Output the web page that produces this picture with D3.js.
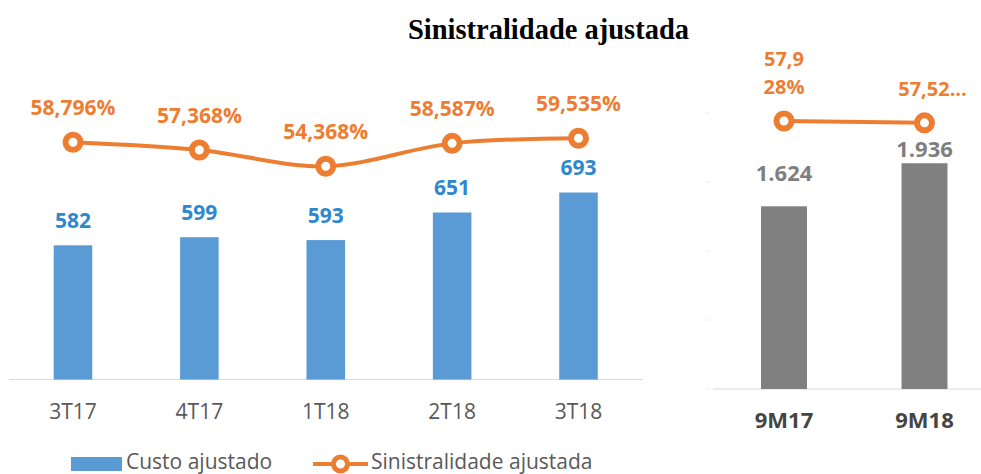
<!DOCTYPE html>
<html><head><meta charset="utf-8">
<script src="https://cdn.jsdelivr.net/npm/d3@7/dist/d3.min.js"></script>
<style>
html,body{margin:0;padding:0;background:#fff;}
svg{display:block;font-family:"Open Sans",sans-serif;}
</style></head>
<body>
<svg id="chart" width="981" height="474"></svg>
<script>
// ---- data ----
const quarters = ["3T17","4T17","1T18","2T18","3T18"];
const custoAjustado = [582, 599, 593, 651, 693];
const sinistralidade = [58.796, 57.368, 54.368, 58.587, 59.535];
const periods = ["9M17","9M18"];
const custoPeriodo = [1624, 1936];
const sinistPeriodo = [57.928, 57.525];
const sinistPeriodoLabels = [["57,9","28%"], ["57,52..."]];
const rightTicks = [300, 800, 1300, 1800, 2300];
const title = "Sinistralidade ajustada";
const legendItems = ["Custo ajustado", "Sinistralidade ajustada"];

const BLUE = "#5B9BD5", BLUE_TXT = "#2F88CC", ORANGE = "#ED7D31", GRAY = "#7F7F7F";
const svg = d3.select("#chart");
const fmtPct = v => d3.format(".3f")(v).replace(".", ",") + "%";
const fmtThousand = v => d3.format(",")(v).replace(",", ".");

// title
svg.append("text").attr("x", 548.5).attr("y", 39).attr("text-anchor", "middle")
  .style("font-family", "'Liberation Serif','Times New Roman',serif")
  .style("font-weight", "bold").style("font-size", "28.5px").attr("fill", "#000").text(title);

// ---------- left chart ----------
const x1 = d3.scaleBand().domain(quarters).range([9.8, 641.7]).paddingInner(0.695).paddingOuter(0.3475);
const y1 = d3.scaleLinear().domain([300, 900]).range([379.5, 94]);
const y1b = d3.scaleLinear().domain([15, 67.7]).range([379.5, 94]);
const base1 = 379.5;

svg.append("line").attr("x1", 9).attr("x2", 642).attr("y1", base1).attr("y2", base1)
  .attr("stroke", "#d9d9d9").attr("stroke-width", 1.2);

const cx1 = d => x1(d) + x1.bandwidth() / 2;

svg.append("g").selectAll("rect").data(quarters).join("rect")
  .attr("x", d => x1(d)).attr("width", x1.bandwidth())
  .attr("y", (d, i) => y1(custoAjustado[i])).attr("height", (d, i) => base1 - y1(custoAjustado[i]))
  .attr("fill", BLUE);

svg.append("g").selectAll("text").data(quarters).join("text")
  .attr("x", cx1).attr("y", (d, i) => y1(custoAjustado[i]) - 17.5)
  .attr("text-anchor", "middle").attr("fill", BLUE_TXT)
  .style("font-weight", "bold").style("font-size", "21px")
  .text((d, i) => custoAjustado[i]);

// x axis labels
const ax1 = svg.append("g").attr("transform", `translate(0,${base1})`)
  .call(d3.axisBottom(x1).tickSize(0).tickPadding(0));
ax1.select(".domain").remove();
ax1.selectAll("text").attr("y", 39).attr("dy", 0).attr("fill", "#595959")
  .style("font-size", "21px").style("font-family", "'Open Sans',sans-serif");

// line
const line1 = d3.line().x((d, i) => cx1(quarters[i])).y(d => y1b(d)).curve(d3.curveCatmullRom.alpha(0.5));
svg.append("path").datum(sinistralidade).attr("d", line1)
  .attr("fill", "none").attr("stroke", ORANGE).attr("stroke-width", 4).attr("stroke-linecap", "round");
svg.append("g").selectAll("circle").data(sinistralidade).join("circle")
  .attr("cx", (d, i) => cx1(quarters[i])).attr("cy", d => y1b(d)).attr("r", 7.5)
  .attr("fill", "#fff").attr("stroke", ORANGE).attr("stroke-width", 6);
svg.append("g").selectAll("text").data(sinistralidade).join("text")
  .attr("x", (d, i) => cx1(quarters[i])).attr("y", d => y1b(d) - 27)
  .attr("text-anchor", "middle").attr("fill", ORANGE)
  .style("font-weight", "bold").style("font-size", "21px").text(d => fmtPct(d));

// ---------- right chart ----------
const x2 = d3.scaleBand().domain(periods).range([713.75, 994.75]).paddingInner(0.673).paddingOuter(0.3365);
const y2 = d3.scaleLinear().domain([300, 2300]).range([389, 113]);
const y2b = d3.scaleLinear().domain([0, 75]).range([389, 42]);
const base2 = 389;
const cx2 = d => x2(d) + x2.bandwidth() / 2;

// faint hidden-axis ticks
svg.append("g").selectAll("line").data(rightTicks).join("line")
  .attr("x1", 705).attr("x2", 709).attr("y1", d => y2(d)).attr("y2", d => y2(d))
  .attr("stroke", "#ececec").attr("stroke-width", 1);

svg.append("line").attr("x1", 713).attr("x2", 981).attr("y1", base2).attr("y2", base2)
  .attr("stroke", "#d9d9d9").attr("stroke-width", 1.2);

svg.append("g").selectAll("rect").data(periods).join("rect")
  .attr("x", d => x2(d)).attr("width", x2.bandwidth())
  .attr("y", (d, i) => y2(custoPeriodo[i])).attr("height", (d, i) => base2 - y2(custoPeriodo[i]))
  .attr("fill", "#808080");

svg.append("g").selectAll("text").data(periods).join("text")
  .attr("x", cx2)
  .attr("y", (d, i) => Math.max(y2(custoPeriodo[i]) - 25, y2b(sinistPeriodo[i]) + 34))
  .attr("text-anchor", "middle").attr("fill", GRAY)
  .style("font-weight", "bold").style("font-size", "22px")
  .text((d, i) => fmtThousand(custoPeriodo[i]));

const ax2 = svg.append("g").attr("transform", `translate(0,${base2})`)
  .call(d3.axisBottom(x2).tickSize(0).tickPadding(0));
ax2.select(".domain").remove();
ax2.selectAll("text").attr("y", 39).attr("dy", 0).attr("fill", "#454545")
  .style("font-size", "22px").style("font-weight", "bold").style("font-family", "'Open Sans',sans-serif");

const line2 = d3.line().x((d, i) => cx2(periods[i])).y(d => y2b(d));
svg.append("path").datum(sinistPeriodo).attr("d", line2)
  .attr("fill", "none").attr("stroke", ORANGE).attr("stroke-width", 4);
svg.append("g").selectAll("circle").data(sinistPeriodo).join("circle")
  .attr("cx", (d, i) => cx2(periods[i])).attr("cy", d => y2b(d)).attr("r", 7.5)
  .attr("fill", "#fff").attr("stroke", ORANGE).attr("stroke-width", 6);
svg.append("g").selectAll("text").data(sinistPeriodo).join("text")
  .attr("text-anchor", "middle").attr("fill", ORANGE)
  .style("font-weight", "bold").style("font-size", "20px")
  .each(function (d, i) {
    const lines = sinistPeriodoLabels[i];
    const n = lines.length;
    d3.select(this).selectAll("tspan").data(lines).join("tspan")
      .attr("x", cx2(periods[i]) + (n === 1 ? 8 : 0))
      .attr("y", (l, j) => y2b(d) - 27 - (n - 1 - j) * 28)
      .text(l => l);
  });

// ---------- legend ----------
const lg = svg.append("g");
lg.append("rect").attr("x", 71).attr("y", 457).attr("width", 51).attr("height", 14).attr("fill", BLUE);
lg.append("text").attr("x", 126).attr("y", 468.5).attr("fill", "#595959").style("font-size", "21px").text(legendItems[0]);
lg.append("line").attr("x1", 313).attr("x2", 368).attr("y1", 464).attr("y2", 464)
  .attr("stroke", ORANGE).attr("stroke-width", 4);
lg.append("circle").attr("cx", 340.5).attr("cy", 464).attr("r", 7).attr("fill", "#fff")
  .attr("stroke", ORANGE).attr("stroke-width", 5);
lg.append("text").attr("x", 371).attr("y", 468.5).attr("fill", "#595959").style("font-size", "21px").text(legendItems[1]);
</script>
</body></html>
